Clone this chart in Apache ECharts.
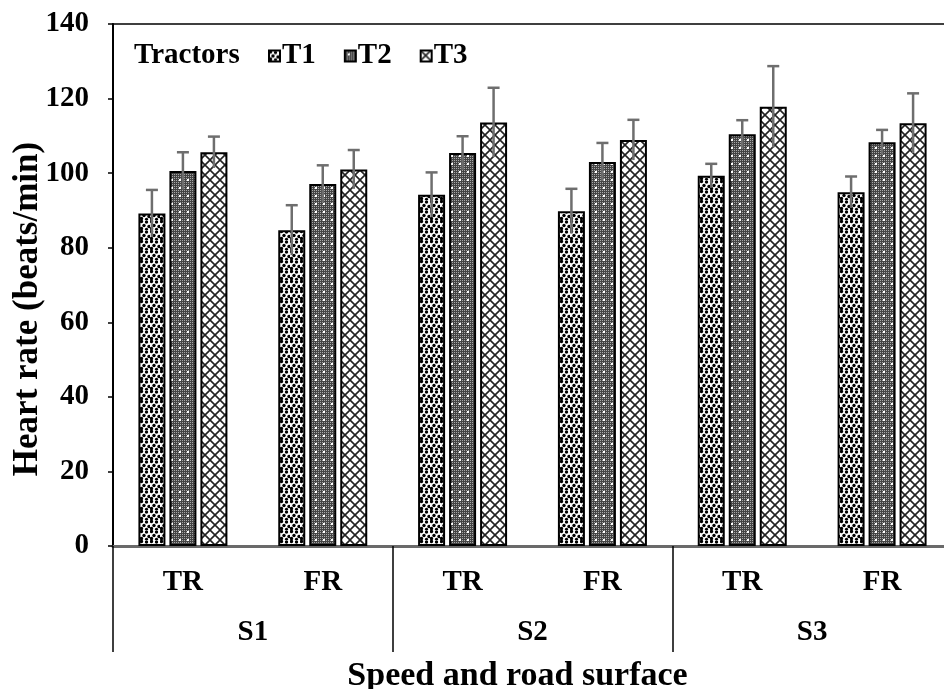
<!DOCTYPE html>
<html>
<head>
<meta charset="utf-8">
<title>Heart rate by speed and road surface</title>
<script src="https://cdn.jsdelivr.net/npm/echarts@6/dist/echarts.min.js"></script>
<style>
  html, body { margin: 0; padding: 0; background: #fff; }
  #chart { width: 944px; height: 689px; }
</style>
</head>
<body>
<div id="chart"></div>
<script>
// Road surface per bar group and the speed level that groups them
const roadSurfaces = ['TR', 'FR', 'TR', 'FR', 'TR', 'FR'];
const speeds = ['S1', 'S2', 'S3'];
const tractorNames = ['T1', 'T2', 'T3'];
const yTicks = [0, 20, 40, 60, 80, 100, 120, 140];

// Mean heart rate (beats/min) and standard deviation per tractor
const t1Mean = [89.2, 84.7, 94.2, 89.8, 99.3, 94.9];
const t1Sd = [6.3, 6.7, 6.0, 6.0, 3.2, 4.2];
const t2Mean = [100.6, 97.1, 105.4, 103.0, 110.4, 108.3];
const t2Sd = [5.0, 5.0, 4.5, 5.1, 3.8, 3.3];
const t3Mean = [105.6, 101.0, 113.6, 108.9, 117.8, 113.4];
const t3Sd = [4.2, 5.2, 9.3, 5.4, 10.9, 8.0];

const FONT = '"Liberation Serif", "Times New Roman", serif';

// Fill patterns drawn on small canvases
function makeTile(size, draw) {
  const c = document.createElement('canvas');
  c.width = size; c.height = size;
  const g = c.getContext('2d');
  draw(g, size);
  return { image: c, repeat: 'repeat' };
}

const dotsPattern = makeTile(10, function (g, s) {
  g.fillStyle = '#fff'; g.fillRect(0, 0, s, s);
  g.fillStyle = '#000';
  const spots = [[1.5, 1.5], [6.5, 2], [4, 5.5], [9, 6.5], [1.5, 8.5], [6.5, 9.5]];
  spots.forEach(function (p) {
    g.beginPath(); g.arc(p[0], p[1], 1.7, 0, Math.PI * 2); g.fill();
  });
});

const gridPattern = makeTile(8, function (g, s) {
  g.fillStyle = '#444'; g.fillRect(0, 0, s, s);
  g.fillStyle = '#a8a8a8';
  for (let x = 0; x < s; x += 2) {
    for (let y = 0; y < s; y += 2) { g.fillRect(x, y, 1, 1); }
  }
  g.fillStyle = '#fff';
  g.fillRect(3, 3, 2, 2);
});

const crossPattern = makeTile(10, function (g, s) {
  g.fillStyle = '#fff'; g.fillRect(0, 0, s, s);
  g.strokeStyle = '#222'; g.lineWidth = 1.6;
  g.beginPath();
  g.moveTo(0, 0); g.lineTo(s, s);
  g.moveTo(s, 0); g.lineTo(0, s);
  g.stroke();
});

const patterns = [dotsPattern, gridPattern, crossPattern];
const means = [t1Mean, t2Mean, t3Mean];
const sds = [t1Sd, t2Sd, t3Sd];

const BAR_W = 27;
const BAR_GAP = 4;

const barSeries = tractorNames.map(function (name, i) {
  return {
    name: name,
    type: 'bar',
    xAxisIndex: 0,
    data: means[i],
    barWidth: BAR_W,
    barGap: (BAR_GAP / BAR_W * 100) + '%',
    itemStyle: { color: patterns[i], borderColor: '#000', borderWidth: 2 },
    z: 2
  };
});

// Error bars: vertical line through the bar top with a cap at the upper end
const errorSeries = tractorNames.map(function (name, i) {
  const offset = (i - 1) * (BAR_W + BAR_GAP);
  return {
    name: name + ' SD',
    type: 'custom',
    xAxisIndex: 0,
    z: 5,
    silent: true,
    data: means[i].map(function (m, k) { return [k, m - sds[i][k], m + sds[i][k]]; }),
    renderItem: function (params, api) {
      const lo = api.coord([api.value(0), api.value(1)]);
      const hi = api.coord([api.value(0), api.value(2)]);
      const x = lo[0] + offset;
      const style = { stroke: '#6e6e6e', lineWidth: 2.5 };
      return {
        type: 'group',
        children: [
          { type: 'line', shape: { x1: x, y1: lo[1], x2: x, y2: hi[1] }, style: style },
          { type: 'line', shape: { x1: x - 6, y1: hi[1], x2: x + 6, y2: hi[1] }, style: style }
        ]
      };
    }
  };
});

const chart = echarts.init(document.getElementById('chart'), null, { renderer: 'canvas' });

chart.setOption({
  animation: false,
  backgroundColor: '#fff',
  grid: {
    left: 113, top: 24, width: 839, height: 522,
    outerBoundsMode: 'none', containLabel: false,
    show: true, borderColor: '#000', borderWidth: 1.5, backgroundColor: 'transparent'
  },
  graphic: [{
    type: 'text', x: 134, y: 56,
    style: { text: 'Tractors', font: 'bold 29px ' + FONT, fill: '#000', verticalAlign: 'middle' }
  }],
  legend: {
    data: tractorNames,
    left: 268, top: 40, padding: 0,
    itemWidth: 11, itemHeight: 11, itemGap: 28,
    icon: 'rect',
    textStyle: {
      fontFamily: FONT, fontWeight: 'bold', fontSize: 29, color: '#000',
      lineHeight: 32, padding: [0, 0, 0, -3]
    }
  },
  xAxis: [
    {
      type: 'category',
      data: roadSurfaces,
      position: 'bottom',
      axisLine: { show: true, lineStyle: { color: '#6a6a6a', width: 3 } },
      axisTick: { show: false },
      axisLabel: { fontFamily: FONT, fontWeight: 'bold', fontSize: 29, color: '#000', margin: 22 },
      name: 'Speed and road surface',
      nameLocation: 'middle',
      nameGap: 113,
      nameMoveOverlap: false,
      nameTextStyle: {
        fontFamily: FONT, fontWeight: 'bold', fontSize: 34, color: '#000',
        padding: [0, 30, 0, 0]
      }
    },
    {
      type: 'category',
      data: speeds,
      position: 'bottom',
      axisLine: { show: false },
      axisTick: { show: true, length: 106, inside: false, lineStyle: { color: '#000', width: 1.5 } },
      axisLabel: { fontFamily: FONT, fontWeight: 'bold', fontSize: 29, color: '#000', margin: 72 }
    }
  ],
  yAxis: {
    type: 'value',
    min: yTicks[0], max: yTicks[yTicks.length - 1], interval: 20,
    axisLine: { show: true, lineStyle: { color: '#000', width: 2 } },
    axisTick: { show: true, length: 5, lineStyle: { color: '#000', width: 1.5 } },
    splitLine: { show: false },
    axisLabel: { fontFamily: FONT, fontWeight: 'bold', fontSize: 29, color: '#000', margin: 24 },
    name: 'Heart rate (beats/min)',
    nameLocation: 'middle',
    nameGap: 68,
    nameMoveOverlap: false,
    nameTextStyle: {
      fontFamily: FONT, fontWeight: 'bold', fontSize: 35, color: '#000',
      padding: [0, 48, 0, 0]
    }
  },
  series: barSeries.concat(errorSeries)
});
</script>
</body>
</html>
